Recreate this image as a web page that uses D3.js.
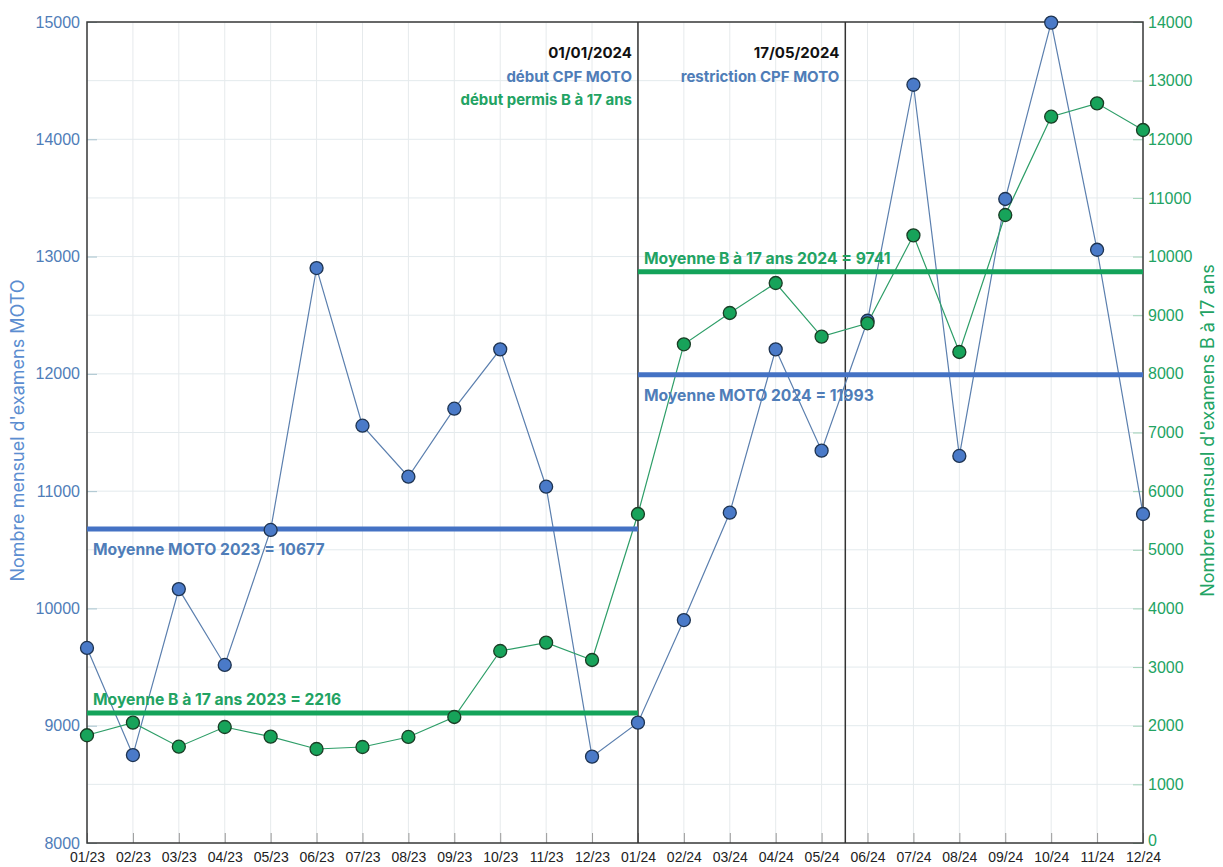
<!DOCTYPE html>
<html><head><meta charset="utf-8">
<script src="https://cdn.jsdelivr.net/npm/d3@7"></script>
<style>
body{margin:0;background:#fff;}
svg{font-family:Inter,"Open Sans",sans-serif;}
</style></head>
<body><svg id="chart" width="1223" height="867"></svg>
<script>
const months = ["01/23","02/23","03/23","04/23","05/23","06/23","07/23","08/23","09/23","10/23","11/23","12/23",
                "01/24","02/24","03/24","04/24","05/24","06/24","07/24","08/24","09/24","10/24","11/24","12/24"];
const moto = [9663,8750,10165,9518,10669,12902,11558,11123,11703,12209,11038,8736,
              9026,9901,10816,12209,11345,12453,14465,11300,13491,14995,13058,10805];
const b17 = [1837,2052,1642,1978,1813,1603,1637,1808,2149,3274,3416,3121,
             5610,8504,9038,9549,8634,8862,10362,8373,10709,12385,12613,12158];
const leftTicks = [8000,9000,10000,11000,12000,13000,14000,15000];
const rightTicks = [0,1000,2000,3000,4000,5000,6000,7000,8000,9000,10000,11000,12000,13000,14000];
const means = [
  {label:"Moyenne MOTO 2023 = 10677", value:10677, from:0, to:12, axis:"L", labelBelow:true},
  {label:"Moyenne MOTO 2024 = 11993", value:11993, from:12, to:23, axis:"L", labelBelow:true},
  {label:"Moyenne B à 17 ans 2023 = 2216", value:2216, from:0, to:12, axis:"R", labelBelow:false},
  {label:"Moyenne B à 17 ans 2024 = 9741", value:9741, from:12, to:23, axis:"R", labelBelow:false}
];
const events = [
  {date:"01/01/2024", idx:12, lines:[["début CPF MOTO","blue"],["début permis B à 17 ans","green"]]},
  {date:"17/05/2024", idx:16 + 16/31, lines:[["restriction CPF MOTO","blue"]]}
];

const BLUE = "#4472c4", GREEN = "#14a35a";
const BLUE_TXT = "#4f7db8", GREEN_TXT = "#22a363";
const m = {l:87, r:1143, t:22, b:843};
const svg = d3.select("#chart");

const x = d3.scaleLinear().domain([0, months.length-1]).range([m.l, m.r]);
const yL = d3.scaleLinear().domain([8000,15000]).range([m.b, m.t]);
const yR = d3.scaleLinear().domain([0,14000]).range([m.b, m.t]);

// grid
svg.append("g").selectAll("line").data(rightTicks).join("line")
  .attr("x1", m.l).attr("x2", m.r).attr("y1", d=>yR(d)).attr("y2", d=>yR(d))
  .attr("stroke","#e3eaed").attr("stroke-width",1);
svg.append("g").selectAll("line").data(d3.range(months.length)).join("line")
  .attr("x1", d=>x(d)).attr("x2", d=>x(d)).attr("y1", m.t).attr("y2", m.b)
  .attr("stroke","#e6eaec").attr("stroke-width",1);

// axes
const ax = svg.append("g").attr("transform",`translate(0,${m.b})`)
  .call(d3.axisBottom(x).tickValues(d3.range(months.length)).tickFormat(i=>months[i]).tickSizeInner(-10).tickSizeOuter(0).tickPadding(9));
ax.select(".domain").remove();
ax.selectAll("line").attr("stroke","#999");
ax.selectAll("text").attr("font-size","14px").attr("fill","#222");

const al = svg.append("g").attr("transform",`translate(${m.l},0)`)
  .call(d3.axisLeft(yL).tickValues(leftTicks).tickFormat(d3.format("d")).tickSizeInner(-10).tickSizeOuter(0).tickPadding(7));
al.select(".domain").remove();
al.selectAll("line").attr("stroke","#a9c4cf");
al.selectAll("text").attr("font-size","16px").attr("fill",BLUE_TXT);

const ar = svg.append("g").attr("transform",`translate(${m.r},0)`)
  .call(d3.axisRight(yR).tickValues(rightTicks).tickFormat(d3.format("d")).tickSizeInner(-10).tickSizeOuter(0).tickPadding(5));
ar.select(".domain").remove();
ar.selectAll("line").attr("stroke","#9fd2b6");
ar.selectAll("text").attr("font-size","16px").attr("fill",GREEN_TXT);
ar.selectAll(".tick").filter(d=>d===0).select("text").attr("dy","0.15em");

// axis titles
svg.append("text").attr("transform",`translate(24,${(m.t+m.b)/2-2}) rotate(-90)`)
  .attr("text-anchor","middle").attr("font-size","18px").attr("fill","#5b8dd0")
  .text("Nombre mensuel d'examens MOTO");
svg.append("text").attr("transform",`translate(1214,${(m.t+m.b)/2-2}) rotate(-90)`)
  .attr("text-anchor","middle").attr("font-size","18px").attr("fill",GREEN_TXT)
  .text("Nombre mensuel d'examens B à 17 ans");

// frame
svg.append("rect").attr("x",m.l).attr("y",m.t).attr("width",m.r-m.l).attr("height",m.b-m.t)
  .attr("fill","none").attr("stroke","#3a3a3a").attr("stroke-width",1.5);

// event lines
events.forEach(e=>{
  svg.append("line").attr("x1",x(e.idx)).attr("x2",x(e.idx)).attr("y1",m.t).attr("y2",m.b)
    .attr("stroke","#333").attr("stroke-width",1.5);
  const g = svg.append("g").attr("text-anchor","end").attr("font-weight","bold").attr("font-size","15px");
  g.append("text").attr("x",x(e.idx)-6).attr("y",58).attr("fill","#111").text(e.date);
  e.lines.forEach((l,i)=>{
    g.append("text").attr("x",x(e.idx)-6).attr("y",82+i*23).attr("fill",l[1]==="blue"?BLUE_TXT:GREEN_TXT).text(l[0]);
  });
});

// series lines
const lineL = d3.line().x((d,i)=>x(i)).y(d=>yL(d));
const lineR = d3.line().x((d,i)=>x(i)).y(d=>yR(d));
svg.append("path").datum(moto).attr("d",lineL).attr("fill","none").attr("stroke","#5b7fae").attr("stroke-width",1.2);
svg.append("path").datum(b17).attr("d",lineR).attr("fill","none").attr("stroke","#2e9e68").attr("stroke-width",1.2);

// mean lines
means.forEach(mm=>{
  const y = mm.axis==="L" ? yL(mm.value) : yR(mm.value);
  const c = mm.axis==="L" ? BLUE : GREEN;
  svg.append("line").attr("x1",x(mm.from)).attr("x2",x(mm.to)).attr("y1",y).attr("y2",y)
    .attr("stroke",c).attr("stroke-width",5);
  svg.append("text").attr("x",x(mm.from)+6).attr("y", mm.labelBelow ? y+26 : y-8)
    .attr("font-weight","bold").attr("font-size","15.7px").attr("fill", mm.axis==="L"?BLUE_TXT:GREEN_TXT)
    .text(mm.label);
});

// markers
svg.append("g").selectAll("circle").data(moto).join("circle")
  .attr("cx",(d,i)=>x(i)).attr("cy",d=>yL(d)).attr("r",6.5)
  .attr("fill","#4a7ac8").attr("stroke","#1e3350").attr("stroke-width",1.3);
svg.append("g").selectAll("circle").data(b17).join("circle")
  .attr("cx",(d,i)=>x(i)).attr("cy",d=>yR(d)).attr("r",6.5)
  .attr("fill","#17a35a").attr("stroke","#1a3d25").attr("stroke-width",1.3);
</script></body></html>
